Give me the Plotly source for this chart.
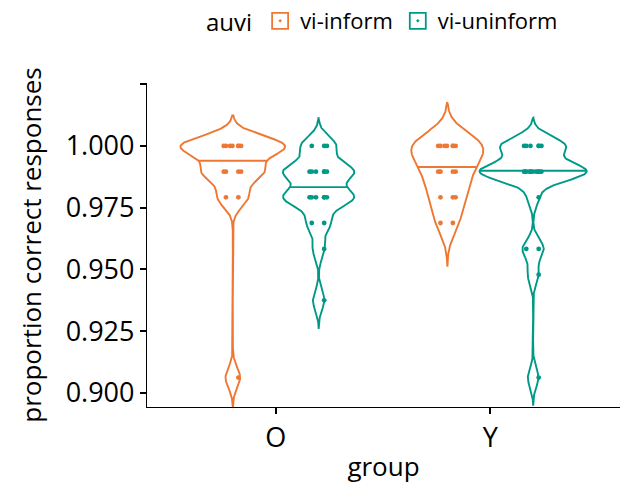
import numpy as np
import plotly.graph_objects as go

# Participant groups on the x axis and the two within-group conditions
group_labels = ["O", "Y"]
condition_labels = ["vi-inform", "vi-uninform"]
condition_colors = ["#EE7733", "#009988"]

# Proportion of correct responses per participant (96 trials each)
o_vi_inform = [1.0000, 1.0000, 1.0000, 1.0000, 1.0000, 1.0000, 1.0000,
               0.9896, 0.9896, 0.9896, 0.9896,
               0.9792, 0.9792,
               0.9062]
o_vi_uninform = [1.0000, 1.0000, 1.0000,
                 0.9896, 0.9896, 0.9896, 0.9896, 0.9896, 0.9896,
                 0.9792, 0.9792, 0.9792, 0.9792, 0.9792, 0.9792,
                 0.9688, 0.9688,
                 0.9583,
                 0.9375]
y_vi_inform = [1.0000, 1.0000, 1.0000, 1.0000, 1.0000, 1.0000, 1.0000,
               0.9896, 0.9896, 0.9896, 0.9896,
               0.9792, 0.9792, 0.9792,
               0.9688, 0.9688]
y_vi_uninform = [1.0000, 1.0000, 1.0000, 1.0000, 1.0000, 1.0000,
                 0.9896, 0.9896, 0.9896, 0.9896, 0.9896,
                 0.9896, 0.9896, 0.9896, 0.9896, 0.9896,
                 0.9792,
                 0.9583, 0.9583,
                 0.9479,
                 0.9062]

y_tick_values = [0.900, 0.925, 0.950, 0.975, 1.000, 1.025]
y_tick_labels = ["0.900", "0.925", "0.950", "0.975", "1.000", ""]

cells = {
    ("O", "vi-inform"): o_vi_inform,
    ("O", "vi-uninform"): o_vi_uninform,
    ("Y", "vi-inform"): y_vi_inform,
    ("Y", "vi-uninform"): y_vi_uninform,
}

# Layout / style parameters
DODGE = 0.2           # offset of each condition from the group centre
VIOLIN_WIDTH = 0.5    # full width of the widest violin, in x units
JITTER_WIDTH = 0.1    # horizontal band used for the participant dots
FONT = "Open Sans"


def bw_nrd0(x):
    """Silverman's rule of thumb (as R's bw.nrd0)."""
    x = np.asarray(x, dtype=float)
    sd = x.std(ddof=1)
    q1, q3 = np.percentile(x, [25, 75])
    lo = min(sd, (q3 - q1) / 1.34)
    if lo <= 0:
        lo = sd if sd > 0 else 1.0
    return 0.9 * lo * len(x) ** -0.2


def gaussian_kde(x, n_grid=512):
    x = np.asarray(x, dtype=float)
    bw = bw_nrd0(x)
    grid = np.linspace(x.min() - 3 * bw, x.max() + 3 * bw, n_grid)
    z = (grid[:, None] - x[None, :]) / bw
    dens = np.exp(-0.5 * z ** 2).sum(axis=1) / (len(x) * bw * np.sqrt(2 * np.pi))
    return grid, dens


densities = {key: gaussian_kde(vals) for key, vals in cells.items()}
# area scaling: all violins share the same density-to-width factor
global_max = max(d.max() for _, d in densities.values())

fig = go.Figure()

for gi, group in enumerate(group_labels):
    for ci, cond in enumerate(condition_labels):
        vals = cells[(group, cond)]
        color = condition_colors[ci]
        centre = (gi + 1) + (ci - 0.5) * 2 * DODGE
        grid, dens = densities[(group, cond)]
        half = dens / global_max * VIOLIN_WIDTH / 2

        # violin outline
        xs = np.concatenate([centre + half, (centre - half)[::-1], [centre + half[0]]])
        ys = np.concatenate([grid, grid[::-1], [grid[0]]])
        fig.add_trace(go.Scatter(
            x=xs, y=ys, mode="lines",
            line=dict(color=color, width=1.9),
            showlegend=False, hoverinfo="skip",
        ))

        # median of the estimated density
        cdf = np.cumsum(dens) / dens.sum()
        y_med = np.interp(0.5, cdf, grid)
        hw_med = np.interp(y_med, grid, half)
        fig.add_trace(go.Scatter(
            x=[centre - hw_med, centre + hw_med], y=[y_med, y_med],
            mode="lines", line=dict(color=color, width=1.9),
            showlegend=False, hoverinfo="skip",
        ))

        # individual participants, jittered horizontally (one band per score level)
        for level in sorted(set(vals), reverse=True):
            row = [v for v in vals if v == level]
            fig.add_trace(go.Box(
                x=[centre] * len(row), y=row,
                boxpoints="all", jitter=1, pointpos=0, width=JITTER_WIDTH,
                fillcolor="rgba(0,0,0,0)",
                line=dict(width=0, color="rgba(0,0,0,0)"),
                marker=dict(color=color, size=4.8),
                showlegend=False, hoverinfo="skip",
            ))

# legend entries: outlined key with a dot
for ci, cond in enumerate(condition_labels):
    fig.add_trace(go.Scatter(
        x=[None], y=[None], mode="markers", name=cond,
        marker=dict(symbol="square-open-dot", size=17,
                    color=condition_colors[ci], line=dict(width=1.8)),
    ))

axis_common = dict(
    showline=True, linecolor="black", linewidth=1.2,
    ticks="outside", ticklen=6, tickwidth=2, tickcolor="black",
    showgrid=False, zeroline=False,
    tickfont=dict(family=FONT, size=27, color="black"),
)

fig.update_layout(
    width=622, height=488,
    margin=dict(l=147, r=2, t=83, b=81),
    paper_bgcolor="white", plot_bgcolor="white",
    font=dict(family=FONT, color="black"),
    showlegend=True,
    legend=dict(
        orientation="h",
        title=dict(text="auvi", font=dict(family=FONT, size=24), side="left"),
        font=dict(family=FONT, size=22),
        xref="container", yref="container",
        x=0.328, xanchor="left", y=1.0, yanchor="top",
        bgcolor="rgba(0,0,0,0)",
        itemwidth=30,
    ),
    xaxis=dict(
        range=[0.4, 2.605],
        tickvals=[1, 2], ticktext=group_labels,
        title=dict(text="group", font=dict(family=FONT, size=26), standoff=4),
        **axis_common,
    ),
    yaxis=dict(
        range=[0.8943, 1.0255],
        tickvals=y_tick_values, ticktext=y_tick_labels,
        title=dict(text="proportion correct responses", font=dict(family=FONT, size=26), standoff=16),
        **axis_common,
    ),
)

fig.write_html("out.html")
